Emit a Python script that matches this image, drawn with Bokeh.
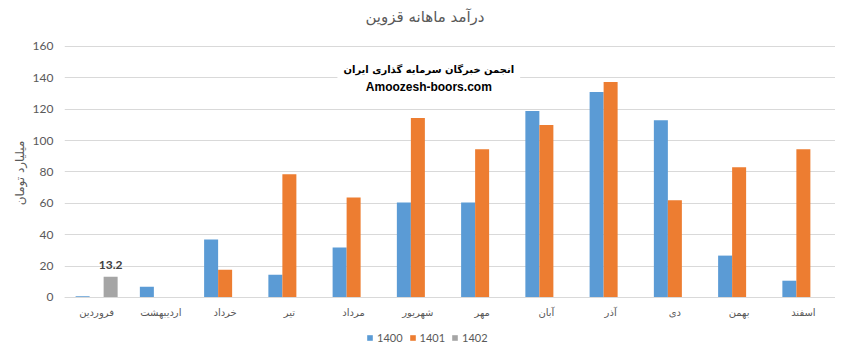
from bokeh.plotting import figure
from bokeh.models import FactorRange, ColumnDataSource, Legend, LegendItem, Label
from bokeh.transform import dodge
from bokeh.core.properties import value
from bokeh.embed import file_html
from bokeh.resources import INLINE

months = ["فروردین", "اردیبهشت", "خرداد", "تیر", "مرداد", "شهریور",
          "مهر", "آبان", "آذر", "دی", "بهمن", "اسفند"]
v1400 = [0.8, 6.8, 37, 14.5, 31.8, 60.6, 60.6, 118.8, 131, 113, 26.7, 10.7]
v1401 = [None, None, 17.7, 78.5, 63.8, 114.4, 94.5, 109.9, 137.4, 62, 83, 94.5]
v1402 = [13.2, None, None, None, None, None, None, None, None, None, None, None]
series_names = ["1400", "1401", "1402"]
colors = ["#5B9BD5", "#ED7D31", "#A5A5A5"]
y_ticks = [0, 20, 40, 60, 80, 100, 120, 140, 160]

title_text = "درآمد ماهانه قزوین"
y_label = "میلیارد تومان"
wm_line1 = "انجمن خبرگان سرمایه گذاری ایران"
wm_line2 = "Amoozesh-boors.com"

TXT = "#595959"

# frame spans whole height; axis range 0..160 occupies the middle
p = figure(width=835, height=345, x_range=FactorRange(factors=months, range_padding=0),
           y_range=(-30.6, 189.3), output_backend="svg", toolbar_location=None,
           min_border_left=64, min_border_right=0, min_border_top=0, min_border_bottom=0)
p.outline_line_color = None
p.background_fill_color = "white"
p.title.text = ""

w = 0.218
offsets = [-w, 0, w]
renderers = []
for vals, off, col in zip([v1400, v1401, v1402], offsets, colors):
    xs = [m for m, v in zip(months, vals) if v is not None]
    ys = [v for v in vals if v is not None]
    src = ColumnDataSource(dict(x=xs, top=ys, lab=[f"{v}" for v in ys]))
    r = p.vbar(x=dodge("x", off, range=p.x_range), top="top", width=w, source=src,
               fill_color=col, line_color=None)
    renderers.append((r, src, off))

# data label for 1402
r2, src2, off2 = renderers[2]
p.text(x=dodge("x", off2, range=p.x_range), y="top", text="lab", source=src2,
       text_align="center", text_baseline="bottom", y_offset=-8,
       text_font=value("Lato"), text_font_size="12px", text_font_style="bold",
       text_color="#404040")

p.xgrid.grid_line_color = None
p.ygrid.grid_line_color = "#D9D9D9"
p.ygrid.grid_line_width = 1
p.yaxis.ticker = y_ticks
p.yaxis.bounds = (0, 160)
p.yaxis.axis_line_color = None
p.yaxis.major_tick_line_color = None
p.yaxis.minor_tick_line_color = None
p.yaxis.major_label_text_color = TXT
p.yaxis.major_label_text_font = "Lato"
p.yaxis.major_label_text_font_size = "12px"
p.yaxis.major_label_standoff = 5
p.yaxis.axis_label = y_label
p.yaxis.axis_label_text_font = "DejaVu Sans"
p.yaxis.axis_label_text_font_size = "12px"
p.yaxis.axis_label_text_font_style = "normal"
p.yaxis.axis_label_text_color = TXT
p.yaxis.axis_label_standoff = 3

p.xaxis.fixed_location = 0
p.xaxis.axis_line_color = "#D9D9D9"
p.xaxis.major_tick_line_color = None
p.xaxis.minor_tick_line_color = None
p.xaxis.major_label_text_color = TXT
p.xaxis.major_label_text_font = "DejaVu Sans"
p.xaxis.major_label_text_font_size = "10px"
p.xaxis.major_label_standoff = 4

title_lbl = Label(x=5.61, y=178.5, text=title_text, text_align="center", text_baseline="middle",
                  text_font="DejaVu Sans", text_font_size="15px", text_color=TXT)
p.add_layout(title_lbl)

wm1 = Label(x=5.67, y=145.3, text=wm_line1, text_align="center", text_baseline="middle",
            text_font="DejaVu Sans", text_font_size="10px", text_font_style="bold",
            text_color="black", background_fill_color="white", background_fill_alpha=1.0,
            padding=6)
wm2 = Label(x=5.67, y=133.9, text=wm_line2, text_align="center", text_baseline="middle",
            text_font="Liberation Sans", text_font_size="12px", text_font_style="bold",
            text_color="black")
p.add_layout(wm1)
p.add_layout(wm2)

legend = Legend(items=[LegendItem(label=n, renderers=[r]) for n, (r, s, o) in zip(series_names, renderers)],
                orientation="horizontal", location=(302, 1),
                glyph_width=7, glyph_height=7, label_standoff=4, spacing=6,
                label_height=14, padding=0, margin=0,
                border_line_color=None, background_fill_alpha=0,
                label_text_font="Lato", label_text_font_size="11px", label_text_color=TXT)
p.add_layout(legend)

open("out.html", "w").write(file_html(p, INLINE))
